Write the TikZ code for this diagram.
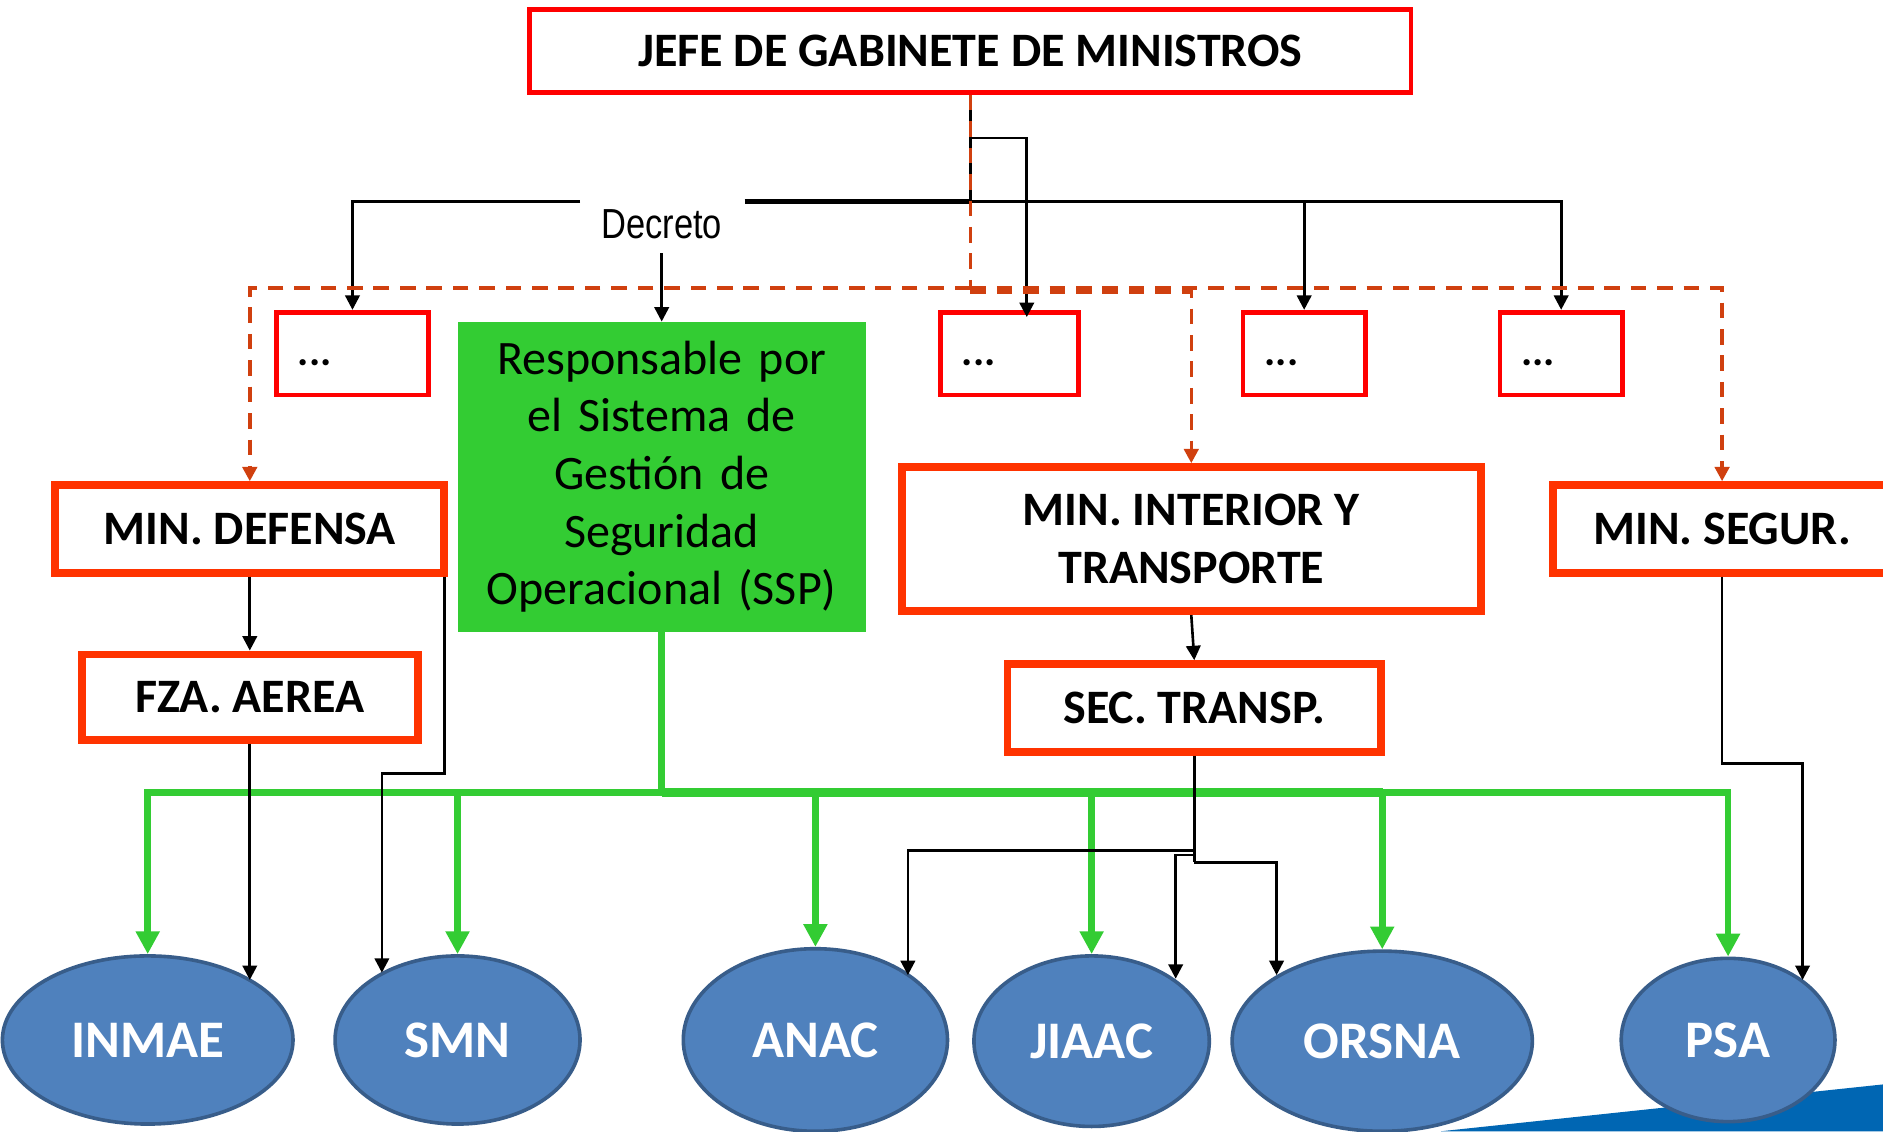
\documentclass[tikz,border=0pt]{standalone}
\usepackage{fontspec}
\setmainfont{Carlito}
\newfontfamily\narrowfont[FakeStretch=0.82]{Liberation Sans}
\newfontfamily\sspfont[WordSpace=0.85]{Carlito}
\usetikzlibrary{arrows.meta,shapes.geometric}
\definecolor{boxred}{HTML}{FF0000}
\definecolor{boxor}{HTML}{FF3300}
\definecolor{dashcol}{HTML}{D0400F}
\definecolor{ssgreen}{HTML}{33CC33}
\definecolor{ellfill}{HTML}{4F81BD}
\definecolor{elldraw}{HTML}{385D8A}
\definecolor{wedgeblue}{HTML}{0066B3}
\tikzset{
  redbox/.style={draw=boxred, line width=4pt, fill=white, inner ysep=0pt,
    inner xsep=18pt, align=left, text height=22pt, text depth=2pt,
    font=\fontsize{35pt}{36pt}\selectfont\bfseries},
  topbox/.style={draw=boxred, line width=4pt, fill=white, inner sep=0pt,
    font=\fontsize{40pt}{48pt}\selectfont\bfseries},
  orbox/.style={draw=boxor, line width=6.5pt, fill=white, inner sep=0pt, align=center,
    font=\fontsize{40pt}{48pt}\selectfont\bfseries},
  sspbox/.style={fill=ssgreen, inner sep=0pt, align=center, text width=330pt,
    font=\sspfont\fontsize{40pt}{48pt}\selectfont},
  agency/.style={ellipse, draw=elldraw, line width=3pt, fill=ellfill, inner sep=0pt,
    text=white, font=\fontsize{44pt}{50pt}\selectfont\bfseries},
  blk/.style={draw=black, line width=2.2pt},
  blkarr/.style={blk, -{Triangle[length=12pt,width=12pt]}},
  grn/.style={draw=ssgreen, line width=5.5pt},
  grnarr/.style={grn, -{Triangle[length=19pt,width=19pt]}},
  dashln/.style={draw=dashcol, line width=3pt, dash pattern=on 13pt off 9pt},
  dasharr/.style={dashln, -{Triangle[length=12pt,width=12pt]}},
}
\begin{document}
\begin{tikzpicture}[x=1pt,y=-1pt]
\useasboundingbox (0,0) rectangle (1568,942);
\clip (0,0) rectangle (1568,942);
\fill[white] (0,0) rectangle (1568,942);
% decorative wedge
\fill[wedgeblue] (1200,942) -- (1568,903) -- (1568,942) -- cycle;

% nodes
\node[topbox, minimum width=734pt, minimum height=69pt] (jefe) at (808,42.5) {JEFE DE GABINETE DE MINISTROS};
\node[redbox, minimum height=69pt, text width=91pt] (d1) at (293.5,294.5) {...};
\node[redbox, minimum height=69pt, text width=79pt] (d3) at (840.5,294.5) {...};
\node[redbox, minimum height=69pt, text width=66pt] (d4) at (1086,294.5) {...};
\node[redbox, minimum height=69pt, text width=66pt] (d5) at (1300,294.5) {...};
\node[sspbox, minimum width=340pt, minimum height=258pt] (ssp) at (551,397)
  {Responsable por\\el Sistema de\\Gestión de\\Seguridad\\Operacional (SSP)};
\node[font=\narrowfont\fontsize{35pt}{40pt}\selectfont] (decreto) at (551,187) {Decreto};
\node[orbox, minimum width=324pt, minimum height=73pt] (defensa) at (208,440.5) {MIN. DEFENSA};
\node[orbox, minimum width=280pt, minimum height=71pt] (fza) at (208,580.5) {FZA. AEREA};
\node[orbox, minimum width=482pt, minimum height=120pt] (interior) at (992,449) {MIN. INTERIOR Y\\TRANSPORTE};
\node[orbox, minimum width=282pt, minimum height=73pt] (segur) at (1434,440.5) {MIN. SEGUR.};
\node[orbox, minimum width=311pt, minimum height=73pt] (sec) at (994.5,589.5) {SEC. TRANSP.};

\node[agency, minimum width=242pt, minimum height=140pt] (inmae) at (123,866) {INMAE};
\node[agency, minimum width=204pt, minimum height=140pt] (smn) at (381,866) {SMN};
\node[agency, minimum width=220pt, minimum height=152pt] (anac) at (679,866) {ANAC};
\node[agency, minimum width=196pt, minimum height=142pt] (jiaac) at (909,867) {JIAAC};
\node[agency, minimum width=250pt, minimum height=150pt] (orsna) at (1151,867) {ORSNA};
\node[agency, minimum width=178pt, minimum height=136pt] (psa) at (1439,866) {PSA};

% coordinates
\coordinate (bj) at (808,168);
\coordinate (b115) at (808,115);
\coordinate (d3in) at (855,264);
\coordinate (lseg) at (483,168);
\coordinate (tseg) at (620,168);
\coordinate (dm) at (808,240);
\coordinate (dm2) at (808,243);
\coordinate (gbus) at (551,660);
\coordinate (gmid) at (1152,660);
\coordinate (inmaeIn) at (208,816);
\coordinate (smnTurn) at (318,644);
\coordinate (smnIn) at (318,810);
\coordinate (anacIn) at (756,812);
\coordinate (jiaacIn) at (979,815);
\coordinate (orsnaIn) at (1063,812);
\coordinate (psaIn) at (1501,816);
\coordinate (sa) at (994.5,708);
\coordinate (sj) at (994.5,712);
\coordinate (so) at (994.5,718);
\coordinate (ps) at (1434,636);

% black connectors from the top
\draw[blk] (jefe.south) -- (bj);
\draw[blkarr] (b115) -| (d3in);
\draw[blk, line width=4.5pt] (tseg) -- (bj);
\draw[blkarr] (bj) -| (d4.north);
\draw[blkarr] (bj) -| (d5.north);
\draw[blkarr] (lseg) -| (d1.north);
\draw[blkarr, shorten <=8pt] (decreto.south) -- (ssp.north);

% dashed connectors
\draw[dashln] (jefe.south) -- (dm);
\draw[dasharr] (dm) -| (defensa.north);
\draw[dasharr] (dm) -| (segur.north);
\draw[dasharr] (dm2) -| (interior.north);

% green connectors
\draw[grn] (ssp.south) -- (gbus);
\draw[grn, line width=7.5pt] (gbus) -- (gmid);
\draw[grnarr] (gbus) -| (inmae.north);
\draw[grnarr] (gbus) -| (smn.north);
\draw[grnarr] (gbus) -| (anac.north);
\draw[grnarr] (gbus) -| (jiaac.north);
\draw[grnarr] (gbus) -| (orsna.north);
\draw[grnarr] (gbus) -| (psa.north);

% lower black connectors
\draw[blkarr] (defensa.south) -- (fza.north);
\draw[blkarr] (fza.south) -- (inmaeIn);
\draw[blkarr] ([xshift=-3pt]defensa.south east) |- (smnTurn) -- (smnIn);
\draw[blkarr] (interior.south) -- (sec.north);
\draw[blk] (sec.south) -- (so);
\draw[blkarr] (sa) -| (anacIn);
\draw[blkarr] (sj) -| (jiaacIn);
\draw[blkarr] (so) -| (orsnaIn);
\draw[blkarr] (segur.south) -- (ps) -| (psaIn);
\end{tikzpicture}
\end{document}
